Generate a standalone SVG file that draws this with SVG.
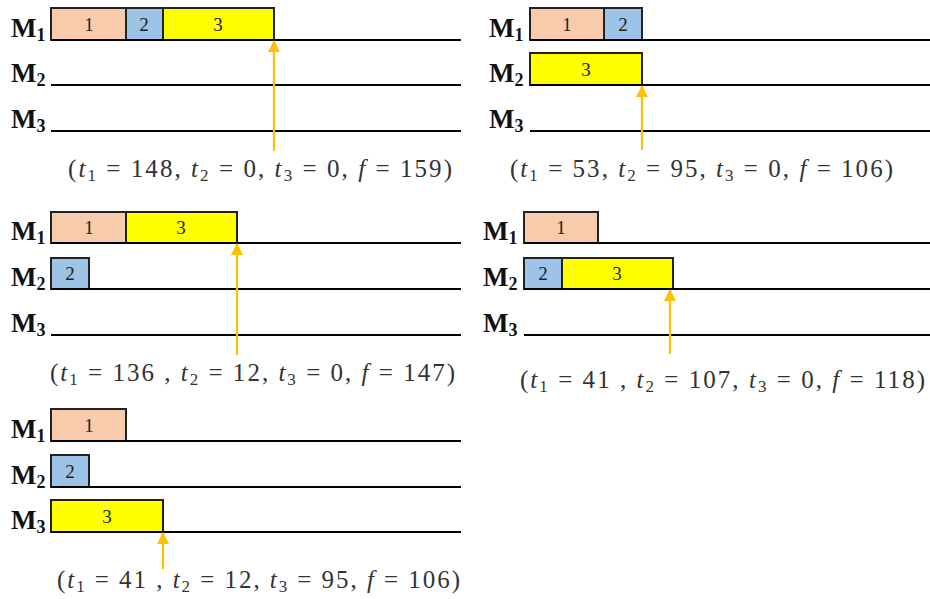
<svg xmlns="http://www.w3.org/2000/svg" width="930" height="599" viewBox="0 0 930 599">
<defs>
<style>
.ln{stroke:#000;stroke-width:2.2;fill:none}
.b1{fill:#F8CBAD;stroke:#222;stroke-width:2}
.b2{fill:#9DC3E6;stroke:#222;stroke-width:2}
.b3{fill:#FFFF00;stroke:#222;stroke-width:2}
.bt{font-family:"Liberation Serif",serif;font-size:19px;fill:#222;text-anchor:middle}
.m{font-family:"Liberation Serif",serif;font-weight:bold;font-size:27px;fill:#111}
.ms{font-size:18px}
.arr{stroke:#FFC000;stroke-width:2.2;fill:none}
.eq{font-family:"Liberation Serif",serif;font-size:25px;fill:#333}
.it{font-style:italic}
.sb{font-size:17px}
</style>
<marker id="ah" viewBox="0 0 12 12" refX="11" refY="6" markerWidth="12" markerHeight="12" markerUnits="userSpaceOnUse" orient="auto">
<path d="M0,0 L12,6 L0,12 Z" fill="#FFC000"/>
</marker>
</defs>

<g id="panel1">
<text class="m" x="11" y="37">M<tspan class="ms" dy="4">1</tspan></text>
<text class="m" x="11" y="82">M<tspan class="ms" dy="4">2</tspan></text>
<text class="m" x="11" y="128">M<tspan class="ms" dy="4">3</tspan></text>
<rect class="b1" x="51" y="8" width="75" height="32"/><text class="bt" x="89" y="31">1</text>
<rect class="b2" x="126" y="8" width="37" height="32"/><text class="bt" x="144" y="31">2</text>
<rect class="b3" x="163" y="8" width="111" height="32"/><text class="bt" x="218" y="31">3</text>
<line class="ln" x1="51" y1="40" x2="461" y2="40"/>
<line class="ln" x1="51" y1="85" x2="461" y2="85"/>
<line class="ln" x1="51" y1="131" x2="461" y2="131"/>
</g>

<g id="panel2">
<text class="m" x="489" y="37">M<tspan class="ms" dy="4">1</tspan></text>
<text class="m" x="489" y="82">M<tspan class="ms" dy="4">2</tspan></text>
<text class="m" x="489" y="128">M<tspan class="ms" dy="4">3</tspan></text>
<rect class="b1" x="530" y="8" width="74" height="32"/><text class="bt" x="567" y="31">1</text>
<rect class="b2" x="604" y="8" width="38" height="32"/><text class="bt" x="623" y="31">2</text>
<rect class="b3" x="530" y="53" width="112" height="32"/><text class="bt" x="586" y="76">3</text>
<line class="ln" x1="530" y1="40" x2="930" y2="40"/>
<line class="ln" x1="530" y1="85" x2="930" y2="85"/>
<line class="ln" x1="530" y1="131" x2="930" y2="131"/>
</g>

<g id="panel3">
<text class="m" x="11" y="240">M<tspan class="ms" dy="4">1</tspan></text>
<text class="m" x="11" y="286">M<tspan class="ms" dy="4">2</tspan></text>
<text class="m" x="11" y="332">M<tspan class="ms" dy="4">3</tspan></text>
<rect class="b1" x="51" y="212" width="75" height="31"/><text class="bt" x="89" y="234">1</text>
<rect class="b3" x="126" y="212" width="111" height="31"/><text class="bt" x="181" y="234">3</text>
<rect class="b2" x="51" y="258" width="38" height="31"/><text class="bt" x="70" y="280">2</text>
<line class="ln" x1="51" y1="243" x2="461" y2="243"/>
<line class="ln" x1="51" y1="289" x2="461" y2="289"/>
<line class="ln" x1="51" y1="335" x2="461" y2="335"/>
</g>

<g id="panel4">
<text class="m" x="483" y="240">M<tspan class="ms" dy="4">1</tspan></text>
<text class="m" x="483" y="286">M<tspan class="ms" dy="4">2</tspan></text>
<text class="m" x="483" y="332">M<tspan class="ms" dy="4">3</tspan></text>
<rect class="b1" x="524" y="212" width="74" height="31"/><text class="bt" x="561" y="234">1</text>
<rect class="b2" x="524" y="258" width="38" height="31"/><text class="bt" x="543" y="280">2</text>
<rect class="b3" x="562" y="258" width="111" height="31"/><text class="bt" x="617" y="280">3</text>
<line class="ln" x1="524" y1="243" x2="930" y2="243"/>
<line class="ln" x1="524" y1="289" x2="930" y2="289"/>
<line class="ln" x1="524" y1="335" x2="930" y2="335"/>
</g>

<g id="panel5">
<text class="m" x="11" y="438">M<tspan class="ms" dy="4">1</tspan></text>
<text class="m" x="11" y="484">M<tspan class="ms" dy="4">2</tspan></text>
<text class="m" x="11" y="529">M<tspan class="ms" dy="4">3</tspan></text>
<rect class="b1" x="51" y="409" width="75" height="32"/><text class="bt" x="89" y="432">1</text>
<rect class="b2" x="51" y="455" width="38" height="32"/><text class="bt" x="70" y="478">2</text>
<rect class="b3" x="51" y="500" width="112" height="32"/><text class="bt" x="107" y="523">3</text>
<line class="ln" x1="51" y1="441" x2="461" y2="441"/>
<line class="ln" x1="51" y1="487" x2="461" y2="487"/>
<line class="ln" x1="51" y1="532" x2="461" y2="532"/>
</g>

<g id="connectors">
<line class="arr" x1="274" y1="151" x2="274" y2="41" marker-end="url(#ah)"/>
<line class="arr" x1="642" y1="150" x2="642" y2="86" marker-end="url(#ah)"/>
<line class="arr" x1="237" y1="355" x2="237" y2="244" marker-end="url(#ah)"/>
<line class="arr" x1="670" y1="354" x2="670" y2="290" marker-end="url(#ah)"/>
<line class="arr" x1="163" y1="569" x2="163" y2="533" marker-end="url(#ah)"/>
</g>

<g id="labels">
<text class="eq" x="68" y="177" textLength="384" lengthAdjust="spacing">(<tspan class="it">t</tspan><tspan class="sb" dy="4">1</tspan><tspan dy="-4"> = 148, </tspan><tspan class="it">t</tspan><tspan class="sb" dy="4">2</tspan><tspan dy="-4"> = 0, </tspan><tspan class="it">t</tspan><tspan class="sb" dy="4">3</tspan><tspan dy="-4"> = 0, </tspan><tspan class="it">f</tspan> = 159)</text>
<text class="eq" x="510" y="177" textLength="383" lengthAdjust="spacing">(<tspan class="it">t</tspan><tspan class="sb" dy="4">1</tspan><tspan dy="-4"> = 53, </tspan><tspan class="it">t</tspan><tspan class="sb" dy="4">2</tspan><tspan dy="-4"> = 95, </tspan><tspan class="it">t</tspan><tspan class="sb" dy="4">3</tspan><tspan dy="-4"> = 0, </tspan><tspan class="it">f</tspan> = 106)</text>
<text class="eq" x="50" y="381" textLength="405" lengthAdjust="spacing">(<tspan class="it">t</tspan><tspan class="sb" dy="4">1</tspan><tspan dy="-4"> = 136 , </tspan><tspan class="it">t</tspan><tspan class="sb" dy="4">2</tspan><tspan dy="-4"> = 12, </tspan><tspan class="it">t</tspan><tspan class="sb" dy="4">3</tspan><tspan dy="-4"> = 0, </tspan><tspan class="it">f</tspan> = 147)</text>
<text class="eq" x="520" y="388" textLength="405" lengthAdjust="spacing">(<tspan class="it">t</tspan><tspan class="sb" dy="4">1</tspan><tspan dy="-4"> = 41 , </tspan><tspan class="it">t</tspan><tspan class="sb" dy="4">2</tspan><tspan dy="-4"> = 107, </tspan><tspan class="it">t</tspan><tspan class="sb" dy="4">3</tspan><tspan dy="-4"> = 0, </tspan><tspan class="it">f</tspan> = 118)</text>
<text class="eq" x="57" y="588" textLength="403" lengthAdjust="spacing">(<tspan class="it">t</tspan><tspan class="sb" dy="4">1</tspan><tspan dy="-4"> = 41 , </tspan><tspan class="it">t</tspan><tspan class="sb" dy="4">2</tspan><tspan dy="-4"> = 12, </tspan><tspan class="it">t</tspan><tspan class="sb" dy="4">3</tspan><tspan dy="-4"> = 95, </tspan><tspan class="it">f</tspan> = 106)</text>
</g>
</svg>
